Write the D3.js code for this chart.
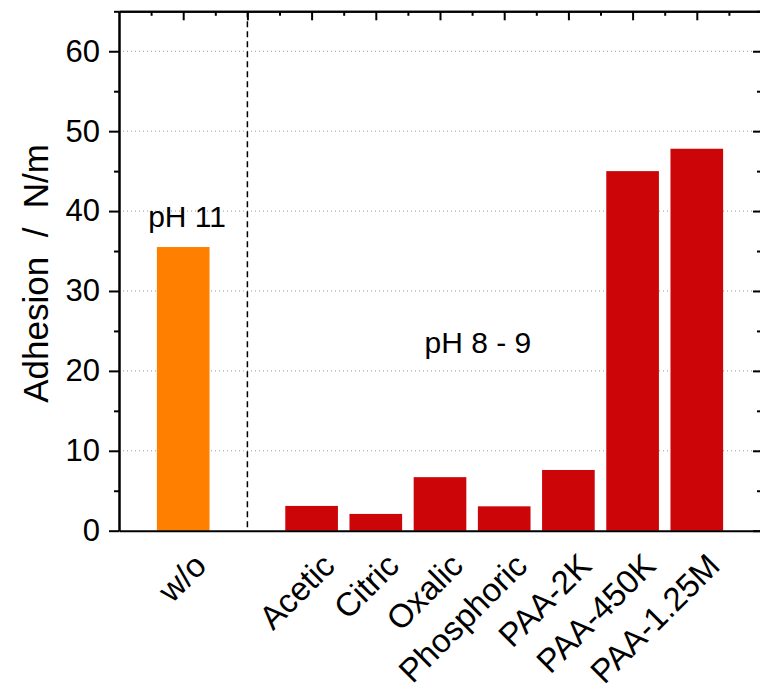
<!DOCTYPE html>
<html>
<head>
<meta charset="utf-8">
<script src="https://cdn.jsdelivr.net/npm/d3@7"></script>
<style>
  body { margin: 0; background: #fff; }
  text { font-family: "Liberation Sans", Arial, sans-serif; fill: #000; }
</style>
</head>
<body>
<div class="chart"></div>
<script>
// data
const labels = ['w/o', 'Acetic', 'Citric', 'Oxalic', 'Phosphoric', 'PAA-2K', 'PAA-450K', 'PAA-1.25M']
const slots = [0, 2, 3, 4, 5, 6, 7, 8]
const adhesion = [35.5, 3.1, 2.1, 6.7, 3.05, 7.6, 45.0, 47.8]
const groups = ['pH 11', 'pH 8 - 9', 'pH 8 - 9', 'pH 8 - 9', 'pH 8 - 9', 'pH 8 - 9', 'pH 8 - 9', 'pH 8 - 9']
const dividerSlot = 1
const yMajor = [0, 10, 20, 30, 40, 50, 60]
const yMinor = [5, 15, 25, 35, 45, 55, 65]
const notes = [ { text: 'pH 11', slot: 0.06, value: 38.0 }, { text: 'pH 8 - 9', slot: 4.59, value: 22.2 } ]

const width = 760
const height = 692
const plotLeft = 119, plotRight = 761, plotTop = 11.3, plotBottom = 530.7

const color = { 'pH 11': '#ff8000', 'pH 8 - 9': '#cc0508' }

var x = d3.scaleLinear().domain([-1, 9]).range([plotLeft, plotRight])
var y = d3.scaleLinear().domain([0, 65]).range([plotBottom, plotTop])
const barW = x(0.82) - x(0)

var svg = d3.select('.chart')
  .append('svg')
  .attr('width', width)
  .attr('height', height)

// dotted grid
svg.append('g')
  .selectAll('line')
  .data(yMajor.slice(1))
  .enter()
  .append('line')
  .attr('x1', plotLeft).attr('x2', plotRight)
  .attr('y1', d => y(d)).attr('y2', d => y(d))
  .attr('stroke', '#999')
  .attr('stroke-width', 1)
  .attr('stroke-dasharray', '1,3')

// divider
svg.append('line')
  .attr('x1', x(dividerSlot)).attr('x2', x(dividerSlot))
  .attr('y1', y(65)).attr('y2', y(0))
  .attr('stroke', '#000')
  .attr('stroke-width', 1.5)
  .attr('stroke-dasharray', '6,4')

// bars
svg.append('g')
  .selectAll('rect')
  .data(adhesion)
  .enter()
  .append('rect')
  .attr('x', (d, i) => x(slots[i]) - barW / 2)
  .attr('y', d => y(d))
  .attr('width', barW)
  .attr('height', d => y(0) - y(d))
  .attr('fill', (d, i) => color[groups[i]])

// axes
function styleAxis(g) {
  g.selectAll('path, line').attr('stroke', '#000').attr('stroke-width', 2)
  g.selectAll('text').attr('font-size', 31).attr('fill', '#000')
    .attr('font-family', '"Liberation Sans", Arial, sans-serif')
}

svg.append('g')
  .attr('transform', `translate(${plotLeft},0)`)
  .call(d3.axisLeft(y).tickValues(yMajor).tickSize(10).tickSizeOuter(0).tickPadding(9))
  .call(styleAxis)

svg.append('g')
  .attr('transform', `translate(${plotLeft},0)`)
  .call(d3.axisLeft(y).tickValues(yMinor).tickSize(5).tickSizeOuter(0).tickFormat(''))
  .call(styleAxis)

svg.append('g')
  .attr('transform', `translate(${plotRight},0)`)
  .call(d3.axisRight(y).tickValues(yMajor).tickSize(-8).tickSizeOuter(0).tickFormat(''))
  .call(styleAxis)

svg.append('g')
  .attr('transform', `translate(${plotRight},0)`)
  .call(d3.axisRight(y).tickValues(yMinor).tickSize(-4).tickSizeOuter(0).tickFormat(''))
  .call(styleAxis)

svg.append('g')
  .attr('transform', `translate(0,${plotTop})`)
  .call(d3.axisTop(x).tickValues(d3.range(0, 9)).tickSize(-9).tickSizeOuter(0).tickFormat(''))
  .call(styleAxis)

svg.append('g')
  .attr('transform', `translate(0,${plotTop})`)
  .call(d3.axisTop(x).tickValues(d3.range(-0.5, 9, 1)).tickSize(-4.5).tickSizeOuter(0).tickFormat(''))
  .call(styleAxis)

svg.append('g')
  .attr('transform', `translate(0,${plotBottom})`)
  .call(d3.axisBottom(x).tickValues([]).tickSizeOuter(0))
  .call(styleAxis)

// category labels
svg.append('g')
  .selectAll('text')
  .data(labels)
  .enter()
  .append('text')
  .attr('text-anchor', 'end')
  .attr('font-size', 33)
  .attr('transform', (d, i) => `translate(${x(slots[i]) + 25},${plotBottom + 37}) rotate(-45)`)
  .text(d => d)

// annotations
svg.append('g')
  .selectAll('text')
  .data(notes)
  .enter()
  .append('text')
  .attr('text-anchor', 'middle')
  .attr('font-size', 30)
  .attr('x', d => x(d.slot))
  .attr('y', d => y(d.value))
  .text(d => d.text)

// y title
svg.append('text')
  .attr('text-anchor', 'middle')
  .attr('font-size', 35)
  .attr('transform', `translate(48,${y(32.2)}) rotate(-90)`)
  .text('Adhesion\u00a0\u00a0/\u00a0\u00a0N/m')
</script>
</body>
</html>
